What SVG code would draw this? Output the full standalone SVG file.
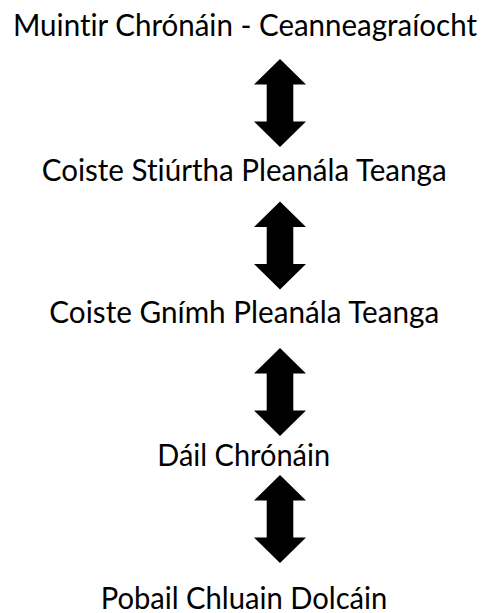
<svg xmlns="http://www.w3.org/2000/svg" xmlns:xlink="http://www.w3.org/1999/xlink" width="481" height="613" viewBox="0 0 481 613">
  <style>
    .lbl { font-family: Lato, "Open Sans", "Liberation Sans", sans-serif; font-size: 30px; fill: #000; text-anchor: middle; font-variant-ligatures: none; }
    .arr { fill: #000; }
  </style>
  <defs>
    <path id="dblArrow" class="arr" d="M0,0 L26,25.5 L13.3,25.5 L13.3,62.5 L26,62.5 L0,88 L-26,62.5 L-13.3,62.5 L-13.3,25.5 L-26,25.5 Z"/>
  </defs>
  <rect width="481" height="613" fill="#fff"/>
  <g id="connectors">
    <use xlink:href="#dblArrow" href="#dblArrow" transform="translate(280,59)"/>
    <use xlink:href="#dblArrow" href="#dblArrow" transform="translate(280,201.5)"/>
    <use xlink:href="#dblArrow" href="#dblArrow" transform="translate(280,348)"/>
    <use xlink:href="#dblArrow" href="#dblArrow" transform="translate(280,475)"/>
  </g>
  <g id="node-muintir">
    <text class="lbl" x="245" y="36" textLength="464" lengthAdjust="spacingAndGlyphs">Muintir Chrónáin - Ceanneagraíocht</text>
  </g>
  <g id="node-coiste-stiurtha">
    <text class="lbl" x="244.2" y="180.7" textLength="405" lengthAdjust="spacingAndGlyphs">Coiste Stiúrtha Pleanála Teanga</text>
  </g>
  <g id="node-coiste-gnimh">
    <text class="lbl" x="244.3" y="322.7" textLength="390" lengthAdjust="spacingAndGlyphs">Coiste Gnímh Pleanála Teanga</text>
  </g>
  <g id="node-dail">
    <text class="lbl" x="243.7" y="466" textLength="172.7" lengthAdjust="spacingAndGlyphs">Dáil Chrónáin</text>
  </g>
  <g id="node-pobail">
    <text class="lbl" x="244" y="609" textLength="286.7" lengthAdjust="spacingAndGlyphs">Pobail Chluain Dolcáin</text>
  </g>
</svg>
